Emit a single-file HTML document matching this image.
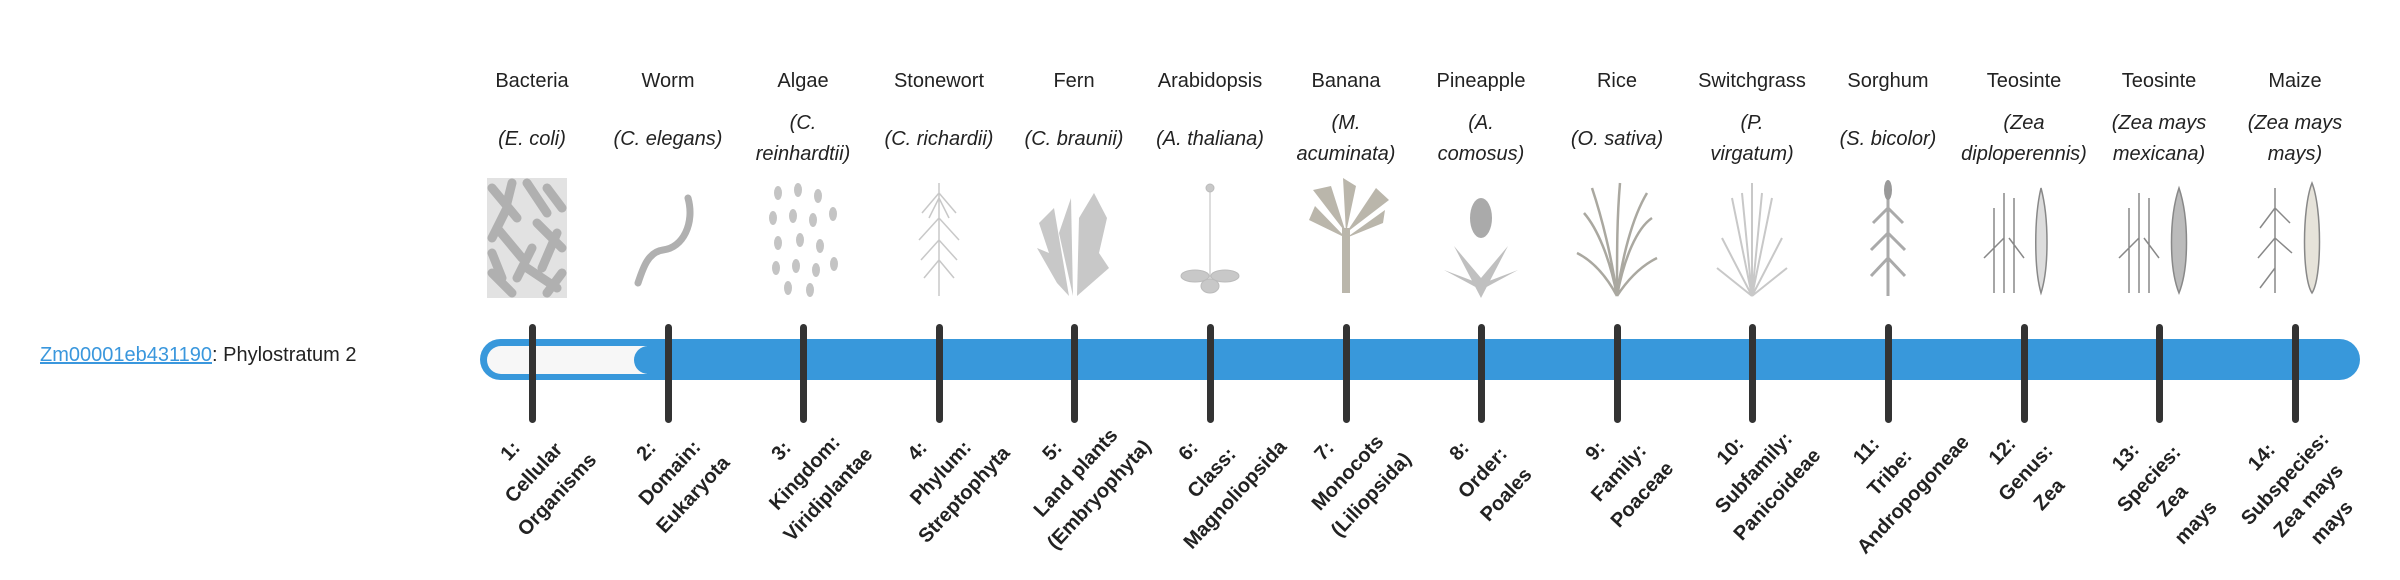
<!DOCTYPE html>
<html><head><meta charset="utf-8"><style>
body{margin:0;width:2400px;height:580px;background:#fff;position:relative;overflow:hidden;font-family:"Liberation Sans",sans-serif;color:#222}
.c{position:absolute;width:140px;text-align:center;font-size:20px}
.n{top:70px}
.s{font-style:italic;line-height:31px;display:flex;align-items:center;justify-content:center;height:70px;top:104px}
.t{position:absolute;top:324px;width:7px;height:99px;background:#333;border-radius:4px;margin-left:-3px}
.b{position:absolute;font-weight:bold;font-size:20px;line-height:32px;text-align:center;white-space:nowrap;transform:translate(-50%,-50%) rotate(-47deg);color:#222}
svg.i{position:absolute;top:178px}
</style></head><body>
<div style="position:absolute;left:40px;top:344px;font-size:20px"><span style="color:#3a97dd;text-decoration:underline">Zm00001eb431190</span>: Phylostratum 2</div>

<div style="position:absolute;left:480px;top:339px;width:1880px;height:41px;background:#3898db;border-radius:21px"></div>
<div style="position:absolute;left:487px;top:346px;width:160px;height:28px;background:#f7f7f7;border-radius:14px 0 0 14px"></div>
<div style="position:absolute;left:634px;top:346px;width:28px;height:28px;background:#3898db;border-radius:14px"></div>

<div class="c n" style="left:462px">Bacteria</div><div class="c s" style="left:462px">(E. coli)</div>
<div class="c n" style="left:598px">Worm</div><div class="c s" style="left:598px">(C. elegans)</div>
<div class="c n" style="left:733px">Algae</div><div class="c s" style="left:733px">(C.<br>reinhardtii)</div>
<div class="c n" style="left:869px">Stonewort</div><div class="c s" style="left:869px">(C. richardii)</div>
<div class="c n" style="left:1004px">Fern</div><div class="c s" style="left:1004px">(C. braunii)</div>
<div class="c n" style="left:1140px">Arabidopsis</div><div class="c s" style="left:1140px">(A. thaliana)</div>
<div class="c n" style="left:1276px">Banana</div><div class="c s" style="left:1276px">(M.<br>acuminata)</div>
<div class="c n" style="left:1411px">Pineapple</div><div class="c s" style="left:1411px">(A.<br>comosus)</div>
<div class="c n" style="left:1547px">Rice</div><div class="c s" style="left:1547px">(O. sativa)</div>
<div class="c n" style="left:1682px">Switchgrass</div><div class="c s" style="left:1682px">(P.<br>virgatum)</div>
<div class="c n" style="left:1818px">Sorghum</div><div class="c s" style="left:1818px">(S. bicolor)</div>
<div class="c n" style="left:1954px">Teosinte</div><div class="c s" style="left:1954px">(Zea<br>diploperennis)</div>
<div class="c n" style="left:2089px">Teosinte</div><div class="c s" style="left:2089px">(Zea mays<br>mexicana)</div>
<div class="c n" style="left:2225px">Maize</div><div class="c s" style="left:2225px">(Zea mays<br>mays)</div>

<!-- images -->
<svg class="i" style="left:487px" width="80" height="120"><rect width="80" height="120" fill="#e2e2e2"/><g stroke="#b0b0b0" stroke-width="9" stroke-linecap="round"><path d="M5 10L30 40M40 5L60 35M10 50L35 80M50 45L75 70M5 95L25 115M40 90L70 110M60 10L75 30M20 30L5 60M70 55L55 90M30 100L45 70M25 5L20 25M75 95L60 115M5 75L15 100"/></g></svg>
<svg class="i" style="left:623px" width="90" height="120"><path d="M65 20C72 45 60 70 40 72 25 74 20 90 15 105" stroke="#b0b0b0" stroke-width="7" fill="none" stroke-linecap="round"/></svg>
<svg class="i" style="left:758px" width="90" height="120" fill="#c4c4c4"><g><ellipse cx="20" cy="15" rx="4" ry="7"/><ellipse cx="40" cy="12" rx="4" ry="7"/><ellipse cx="60" cy="18" rx="4" ry="7"/><ellipse cx="15" cy="40" rx="4" ry="7"/><ellipse cx="35" cy="38" rx="4" ry="7"/><ellipse cx="55" cy="42" rx="4" ry="7"/><ellipse cx="75" cy="36" rx="4" ry="7"/><ellipse cx="20" cy="65" rx="4" ry="7"/><ellipse cx="42" cy="62" rx="4" ry="7"/><ellipse cx="62" cy="68" rx="4" ry="7"/><ellipse cx="18" cy="90" rx="4" ry="7"/><ellipse cx="38" cy="88" rx="4" ry="7"/><ellipse cx="58" cy="92" rx="4" ry="7"/><ellipse cx="76" cy="86" rx="4" ry="7"/><ellipse cx="30" cy="110" rx="4" ry="7"/><ellipse cx="52" cy="112" rx="4" ry="7"/></g></svg>
<svg class="i" style="left:894px" width="90" height="120" stroke="#c8c8c8" fill="none" stroke-width="1.5"><path d="M45 5V118M45 15L28 35M45 15L62 35M45 20L35 40M45 20L55 40M45 40L25 62M45 40L65 62M45 62L27 82M45 62L63 82M45 82L30 100M45 82L60 100"/></svg>
<svg class="i" style="left:1029px" width="90" height="120" fill="#c8c8c8"><path d="M40 118L25 30 10 45 20 75 8 70 28 105ZM48 118L50 40 65 15 78 40 70 75 80 90Z"/><path d="M44 118L42 20 30 55Z"/></svg>
<svg class="i" style="left:1165px" width="90" height="120" stroke="#bbb" fill="#c8c8c8"><path d="M45 10V105" fill="none"/><circle cx="45" cy="10" r="4"/><ellipse cx="30" cy="98" rx="14" ry="6"/><ellipse cx="60" cy="98" rx="14" ry="6"/><ellipse cx="45" cy="108" rx="9" ry="7"/></svg>
<svg class="i" style="left:1301px" width="90" height="120" fill="#bab6ab"><rect x="41" y="50" width="8" height="65"/><path d="M45 55L12 12 30 8ZM45 55L42 0 55 8ZM45 55L75 10 88 22ZM45 60L8 42 14 28ZM45 60L82 45 84 32Z"/></svg>
<svg class="i" style="left:1436px" width="90" height="120" fill="#c0c0c0"><ellipse cx="45" cy="40" rx="11" ry="20" fill="#aaa"/><path d="M45 120L18 68 45 100 72 68ZM45 112L8 92 45 106 82 92Z"/></svg>
<svg class="i" style="left:1572px" width="90" height="120" stroke="#aaa8a0" stroke-width="2.5" fill="none"><path d="M45 118C40 80 30 40 20 10M45 118C50 80 60 40 75 15M45 118C45 70 45 40 48 5M45 118C30 90 15 80 5 75M45 118C60 95 75 85 85 80M45 118C38 80 25 50 12 35M45 118C52 80 65 50 80 40"/></svg>
<svg class="i" style="left:1707px" width="90" height="120" stroke="#c8c8c8" stroke-width="2" fill="none"><path d="M45 118L45 5M45 118L25 20M45 118L65 20M45 118L15 60M45 118L75 60M45 118L10 90M45 118L80 90M45 118L35 15M45 118L55 15"/></svg>
<svg class="i" style="left:1843px" width="90" height="120" stroke="#aaa" stroke-width="3" fill="none"><path d="M45 118V15M45 30L30 45M45 30L60 45M45 55L28 72M45 55L62 72M45 80L28 98M45 80L62 98"/><ellipse cx="45" cy="12" rx="4" ry="10" fill="#999" stroke="none"/></svg>
<svg class="i" style="left:1979px" width="90" height="120" stroke="#888" stroke-width="1.5" fill="none"><path d="M25 115V15M35 115V20M15 115V30M5 80L25 60M45 80L30 60"/><path d="M62 10C55 40 55 90 62 115C70 90 70 40 62 10Z" fill="#ddd"/></svg>
<svg class="i" style="left:2114px" width="90" height="120" stroke="#888" stroke-width="1.5" fill="none"><path d="M25 115V15M35 115V20M15 115V30M5 80L25 60M45 80L30 60"/><path d="M65 10C55 40 55 90 65 115C75 90 75 40 65 10Z" fill="#bbb"/></svg>
<svg class="i" style="left:2250px" width="90" height="120" stroke="#888" stroke-width="1.5" fill="none"><path d="M25 115V10M25 30L10 50M25 30L40 45M25 60L8 80M25 60L42 75M25 90L10 110"/><path d="M62 5C52 30 52 100 62 115C72 100 72 30 62 5Z" fill="#e6e3da"/></svg>

<!-- ticks -->
<div class="t" style="left:532px"></div><div class="t" style="left:668px"></div><div class="t" style="left:803px"></div><div class="t" style="left:939px"></div><div class="t" style="left:1074px"></div><div class="t" style="left:1210px"></div><div class="t" style="left:1346px"></div><div class="t" style="left:1481px"></div><div class="t" style="left:1617px"></div><div class="t" style="left:1752px"></div><div class="t" style="left:1888px"></div><div class="t" style="left:2024px"></div><div class="t" style="left:2159px"></div><div class="t" style="left:2295px"></div>

<!-- bottom labels -->
<div class="b" style="left:534px;top:473px">1:<br>Cellular<br>Organisms</div>
<div class="b" style="left:670px;top:473px">2:<br>Domain:<br>Eukaryota</div>
<div class="b" style="left:805px;top:473px">3:<br>Kingdom:<br>Viridiplantae</div>
<div class="b" style="left:941px;top:473px">4:<br>Phylum:<br>Streptophyta</div>
<div class="b" style="left:1076px;top:473px">5:<br>Land plants<br>(Embryophyta)</div>
<div class="b" style="left:1212px;top:473px">6:<br>Class:<br>Magnoliopsida</div>
<div class="b" style="left:1348px;top:473px">7:<br>Monocots<br>(Liliopsida)</div>
<div class="b" style="left:1483px;top:473px">8:<br>Order:<br>Poales</div>
<div class="b" style="left:1619px;top:473px">9:<br>Family:<br>Poaceae</div>
<div class="b" style="left:1754px;top:473px">10:<br>Subfamily:<br>Panicoideae</div>
<div class="b" style="left:1890px;top:473px">11:<br>Tribe:<br>Andropogoneae</div>
<div class="b" style="left:2026px;top:473px">12:<br>Genus:<br>Zea</div>
<div class="b" style="left:2161px;top:490px">13:<br>Species:<br>Zea<br>mays</div>
<div class="b" style="left:2297px;top:490px">14:<br>Subspecies:<br>Zea mays<br>mays</div>
</body></html>
